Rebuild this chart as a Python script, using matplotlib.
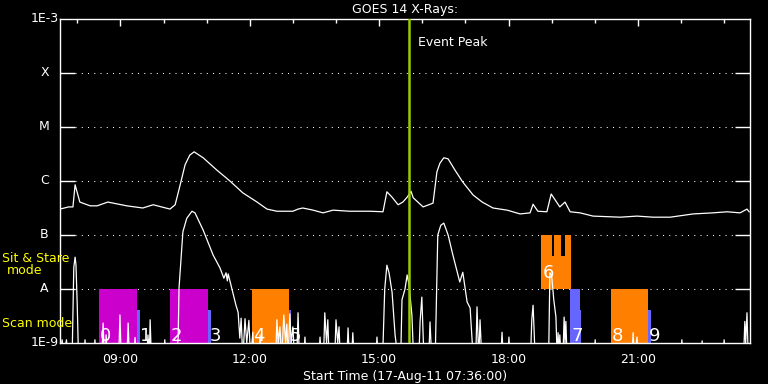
import numpy as np
import matplotlib
matplotlib.use("Agg")
import matplotlib.pyplot as plt
from matplotlib.ticker import FixedLocator, NullLocator
import matplotlib.transforms as mtransforms

# ---- data (x: hour of day on 17-Aug-11, y: log10 flux W/m^2) ----
long_t = [7.60, 7.80, 7.90, 7.95, 8.06, 8.30, 8.46, 8.71, 9.15, 9.52, 9.76, 10.15, 10.27,
          10.34, 10.43, 10.50, 10.61, 10.71, 10.92, 11.24, 11.54, 11.84, 12.17, 12.40, 12.63,
          13.00, 13.12, 13.23, 13.47, 13.70, 13.93, 14.32, 14.79, 15.09, 15.18, 15.30, 15.44,
          15.55, 15.65, 15.74, 15.79, 16.02, 16.25, 16.34, 16.41, 16.50, 16.60, 16.76, 16.94,
          17.18, 17.39, 17.64, 17.97, 18.27, 18.50, 18.57, 18.68, 18.89, 18.99, 19.19, 19.31,
          19.43, 19.66, 19.96, 20.59, 20.98, 21.35, 21.75, 22.28, 22.74, 23.07, 23.37, 23.53, 23.58]
long_log = [-6.52, -6.48, -6.48, -6.07, -6.39, -6.46, -6.46, -6.39, -6.46, -6.50, -6.44, -6.52, -6.44,
            -6.22, -5.93, -5.70, -5.52, -5.46, -5.57, -5.80, -6.00, -6.22, -6.39, -6.52, -6.56,
            -6.56, -6.52, -6.50, -6.54, -6.59, -6.54, -6.56, -6.56, -6.57, -6.20, -6.30, -6.44,
            -6.39, -6.30, -6.19, -6.31, -6.48, -6.41, -5.83, -5.67, -5.57, -5.59, -5.80, -6.02,
            -6.26, -6.39, -6.50, -6.54, -6.61, -6.59, -6.43, -6.56, -6.57, -6.24, -6.48, -6.39,
            -6.57, -6.59, -6.65, -6.67, -6.65, -6.67, -6.67, -6.61, -6.59, -6.57, -6.59, -6.52, -6.57]

short_t = [7.60, 7.65, 7.68, 7.75, 7.78, 7.88, 7.92, 7.95, 7.97, 8.00, 8.03,
           8.15, 8.18, 8.21, 8.38, 8.41, 8.44,
           8.57, 8.60, 8.63, 8.65, 8.67, 8.70, 8.96, 8.99, 9.02, 9.15, 9.18, 9.21, 9.31, 9.34, 9.37,
           9.61, 9.64, 9.67, 9.69, 9.72, 10.00, 10.03, 10.06,
           10.29, 10.34, 10.36, 10.41, 10.45, 10.54, 10.66, 10.73, 10.92, 11.15, 11.31, 11.40, 11.45, 11.48,
           11.50, 11.54, 11.61, 11.68, 11.73, 11.77, 11.80, 11.84, 11.89, 11.93, 11.98, 12.02, 12.07, 12.10,
           12.21, 12.24, 12.27, 12.60, 12.63, 12.66, 12.70, 12.74, 12.79, 12.83, 12.86, 12.89, 12.93, 12.96,
           13.00, 13.04, 13.09, 13.12, 13.15, 13.25, 13.28, 13.31,
           13.60, 13.63, 13.66, 13.71, 13.74, 13.78, 13.81, 13.84, 13.97, 14.00, 14.04, 14.07, 14.10,
           14.25, 14.28, 14.31, 14.36, 14.39, 14.42, 14.92, 14.95, 14.98,
           15.08, 15.13, 15.18, 15.23, 15.30, 15.37, 15.44,
           15.50, 15.53, 15.60, 15.65, 15.69, 15.76, 15.80,
           15.92, 15.95, 15.99, 16.04, 16.15, 16.18, 16.22,
           16.30, 16.36, 16.43, 16.50, 16.60, 16.71, 16.87, 16.94, 17.04, 17.11, 17.16, 17.20,
           17.24, 17.27, 17.31, 17.34, 17.38, 17.82, 17.85, 17.88, 17.98, 18.01, 18.04,
           18.51, 18.54, 18.57, 18.62,
           18.93, 18.96, 19.00, 19.05, 19.10, 19.13, 19.15, 19.17, 19.19, 19.22, 19.26, 19.29, 19.31, 19.33, 19.36,
           19.98, 20.01, 20.04, 20.86, 20.89, 20.92, 20.98, 21.01, 21.99, 22.02, 22.05, 22.46, 22.49, 22.52,
           22.97, 23.00, 23.03,
           23.45, 23.48, 23.50, 23.53, 23.56, 23.60]
short_log = [-9.3, -8.94, -9.3, -8.94, -9.3, -9.3, -7.60, -7.41, -7.55, -8.30, -9.3,
             -9.3, -8.94, -9.3, -9.3, -8.94, -9.3,
             -9.3, -8.63, -9.3, -9.3, -8.85, -9.3, -9.3, -8.48, -9.3, -9.3, -8.63, -9.3, -9.3, -8.90, -9.3,
             -9.3, -8.85, -9.3, -8.57, -9.3, -9.3, -8.94, -9.3,
             -9.3, -8.90, -7.98, -7.40, -6.94, -6.69, -6.56, -6.59, -6.91, -7.37, -7.61, -7.80, -7.70, -7.85,
             -7.72, -7.85, -8.07, -8.30, -8.43, -8.91, -8.54, -9.3, -8.55, -9.0, -8.58, -9.3, -8.80, -9.3,
             -9.3, -8.85, -9.3, -9.3, -8.57, -9.0, -8.70, -9.3, -8.48, -9.0, -8.65, -9.3, -8.46, -9.0,
             -8.70, -9.3, -9.3, -8.44, -9.3, -9.3, -8.89, -9.3,
             -9.3, -8.89, -9.3, -9.3, -8.44, -9.0, -8.57, -9.3, -9.3, -8.57, -9.0, -8.70, -9.3,
             -9.3, -8.72, -9.3, -9.3, -8.81, -9.3, -9.3, -8.89, -9.3,
             -9.3, -8.0, -7.56, -7.70, -8.06, -8.85, -9.3,
             -9.3, -8.20, -8.00, -7.74, -7.90, -8.48, -9.3,
             -9.3, -8.60, -8.15, -9.3, -9.3, -8.61, -9.3,
             -9.3, -7.00, -6.82, -6.78, -7.00, -7.37, -7.87, -7.69, -8.24, -8.35, -9.0, -9.3,
             -9.3, -8.33, -9.3, -8.57, -9.3, -9.3, -8.80, -9.3, -9.3, -8.89, -9.3,
             -9.3, -8.57, -8.30, -9.3,
             -9.3, -7.70, -7.75, -8.20, -8.52, -9.3, -8.81, -9.3, -8.85, -9.3, -9.3, -8.52, -9.0, -8.60, -9.3,
             -9.3, -8.94, -9.3, -9.3, -8.81, -9.3, -8.89, -9.3, -9.3, -8.94, -9.3, -9.3, -8.96, -9.3,
             -9.3, -8.94, -9.3,
             -9.3, -8.60, -9.0, -8.44, -9.3, -9.3]

# observation blocks
obs_start = [8.50, 9.39, 10.15, 11.03, 12.05, 12.91, 18.75, 19.43, 19.66, 20.38, 21.24]
obs_end = [9.39, 9.46, 11.03, 11.10, 12.91, 12.96, 19.45, 19.66, 19.68, 21.24, 21.30]
obs_low = [-9, -9, -9, -9, -9, -9, -8, -9, -9, -9, -9]
obs_high = [-8, -8.39, -8, -8.39, -8, -8.39, -7, -8, -8.39, -8, -8.39]
obs_kind = ["m", "b", "m", "b", "o", "b", "o", "b", "b", "o", "b"]
notch_start = [19.01, 19.22]
notch_end = [19.06, 19.31]
notch_low = -7.39
notch_high = -7.0

obs_ids = ["0", "1", "2", "3", "4", "5", "6", "7", "8", "9"]
label_t = [8.53, 9.46, 10.17, 11.06, 12.08, 12.93, 18.80, 19.45, 20.40, 21.26]
label_log = [-8.96, -8.96, -8.96, -8.96, -8.96, -8.96, -7.80, -8.96, -8.96, -8.96]

event_peak = 15.69

level_vals = [1e-3, 1e-4, 1e-5, 1e-6, 1e-7, 1e-8, 1e-9]
level_labels = ["1E-3", "X", "M", "C", "B", "A", "1E-9"]
xtick_vals = [9, 12, 15, 18, 21]
xtick_labels = ["09:00", "12:00", "15:00", "18:00", "21:00"]
minor_vals = list(range(8, 24))
t_start, t_end = 7.6, 23.6

colors = {"m": "#cc00cc", "b": "#6666ff", "o": "#ff8000"}

# ---- figure ----
W, H = 768, 384
fig = plt.figure(figsize=(W / 100, H / 100), dpi=100, facecolor="black")
ax = fig.add_axes([60 / W, 41 / H, 690 / W, 324 / H])
ax.set_facecolor("black")
ax.set_yscale("log")
ax.set_ylim(1e-9, 1e-3)
ax.set_xlim(t_start, t_end)

for s in ax.spines.values():
    s.set_color("white")
    s.set_linewidth(1.0)

# grid lines (dotted) between the tick marks
for v in level_vals[1:-1]:
    ax.axhline(v, xmin=15 / 690, xmax=676 / 690, color="white", lw=0.75,
               ls=(0, (1, 5)), zorder=0.5)

# observation bars
for s0, e0, lo, hi, k in zip(obs_start, obs_end, obs_low, obs_high, obs_kind):
    ax.bar(s0, 10 ** hi - 10 ** lo, width=e0 - s0, bottom=10 ** lo, align="edge",
           color=colors[k], linewidth=0, zorder=1)
for s0, e0 in zip(notch_start, notch_end):
    ax.bar(s0, 10 ** notch_high - 10 ** notch_low, width=e0 - s0, bottom=10 ** notch_low,
           align="edge", color="black", linewidth=0, zorder=1.2)

# curves
ax.plot(long_t, 10 ** np.array(long_log), color="white", lw=0.9, zorder=2)
ax.plot(short_t, 10 ** np.array(short_log), color="white", lw=0.9, zorder=2)

# labels of observations
for lab, t, lg in zip(obs_ids, label_t, label_log):
    ax.text(t, 10 ** lg, lab, color="white", fontsize=13, ha="left", va="baseline", zorder=3)

# event peak
ax.axvline(event_peak, color="#99cc00", lw=1.8, zorder=4)
ax.text(event_peak + 0.21, 10 ** -3.444, "Event Peak", color="white", fontsize=9,
        ha="left", va="center", zorder=4)

# y axis
ax.yaxis.set_major_locator(FixedLocator(level_vals[1:-1]))
ax.yaxis.set_minor_locator(NullLocator())
ax.tick_params(axis="y", which="major", direction="in", length=10.5, width=1.0,
               color="white", left=True, right=True, labelleft=False, labelright=False)
trans = mtransforms.blended_transform_factory(ax.transAxes, ax.transData)
for v, lab in zip(level_vals, level_labels):
    ax.text(-15.5 / 690, v, lab, color="white", fontsize=9, ha="center", va="center",
            transform=trans)

# x axis
ax.xaxis.set_major_locator(FixedLocator(xtick_vals))
ax.xaxis.set_minor_locator(FixedLocator(minor_vals))
ax.set_xticklabels(xtick_labels)
ax.tick_params(axis="x", which="both", direction="in", bottom=False, top=True,
               labelbottom=True, labeltop=False, color="white", labelcolor="white",
               labelsize=9, pad=7, width=1.0)
ax.tick_params(axis="x", which="major", length=5)
ax.tick_params(axis="x", which="minor", length=3)
ax.set_xlabel("Start Time (17-Aug-11 07:36:00)", color="white", fontsize=9, labelpad=3)
ax.set_title("GOES 14 X-Rays:", color="white", fontsize=9, pad=4)

# mode annotations
fig.text(2 / W, 1 - 259 / H, "Sit & Stare", color="#ffff00", fontsize=9, ha="left", va="center")
fig.text(24.5 / W, 1 - 271 / H, "mode", color="#ffff00", fontsize=9, ha="center", va="center")
fig.text(2 / W, 1 - 323.5 / H, "Scan mode", color="#ffff00", fontsize=9, ha="left", va="center")

fig.savefig("out.png", dpi=100, facecolor="black")
